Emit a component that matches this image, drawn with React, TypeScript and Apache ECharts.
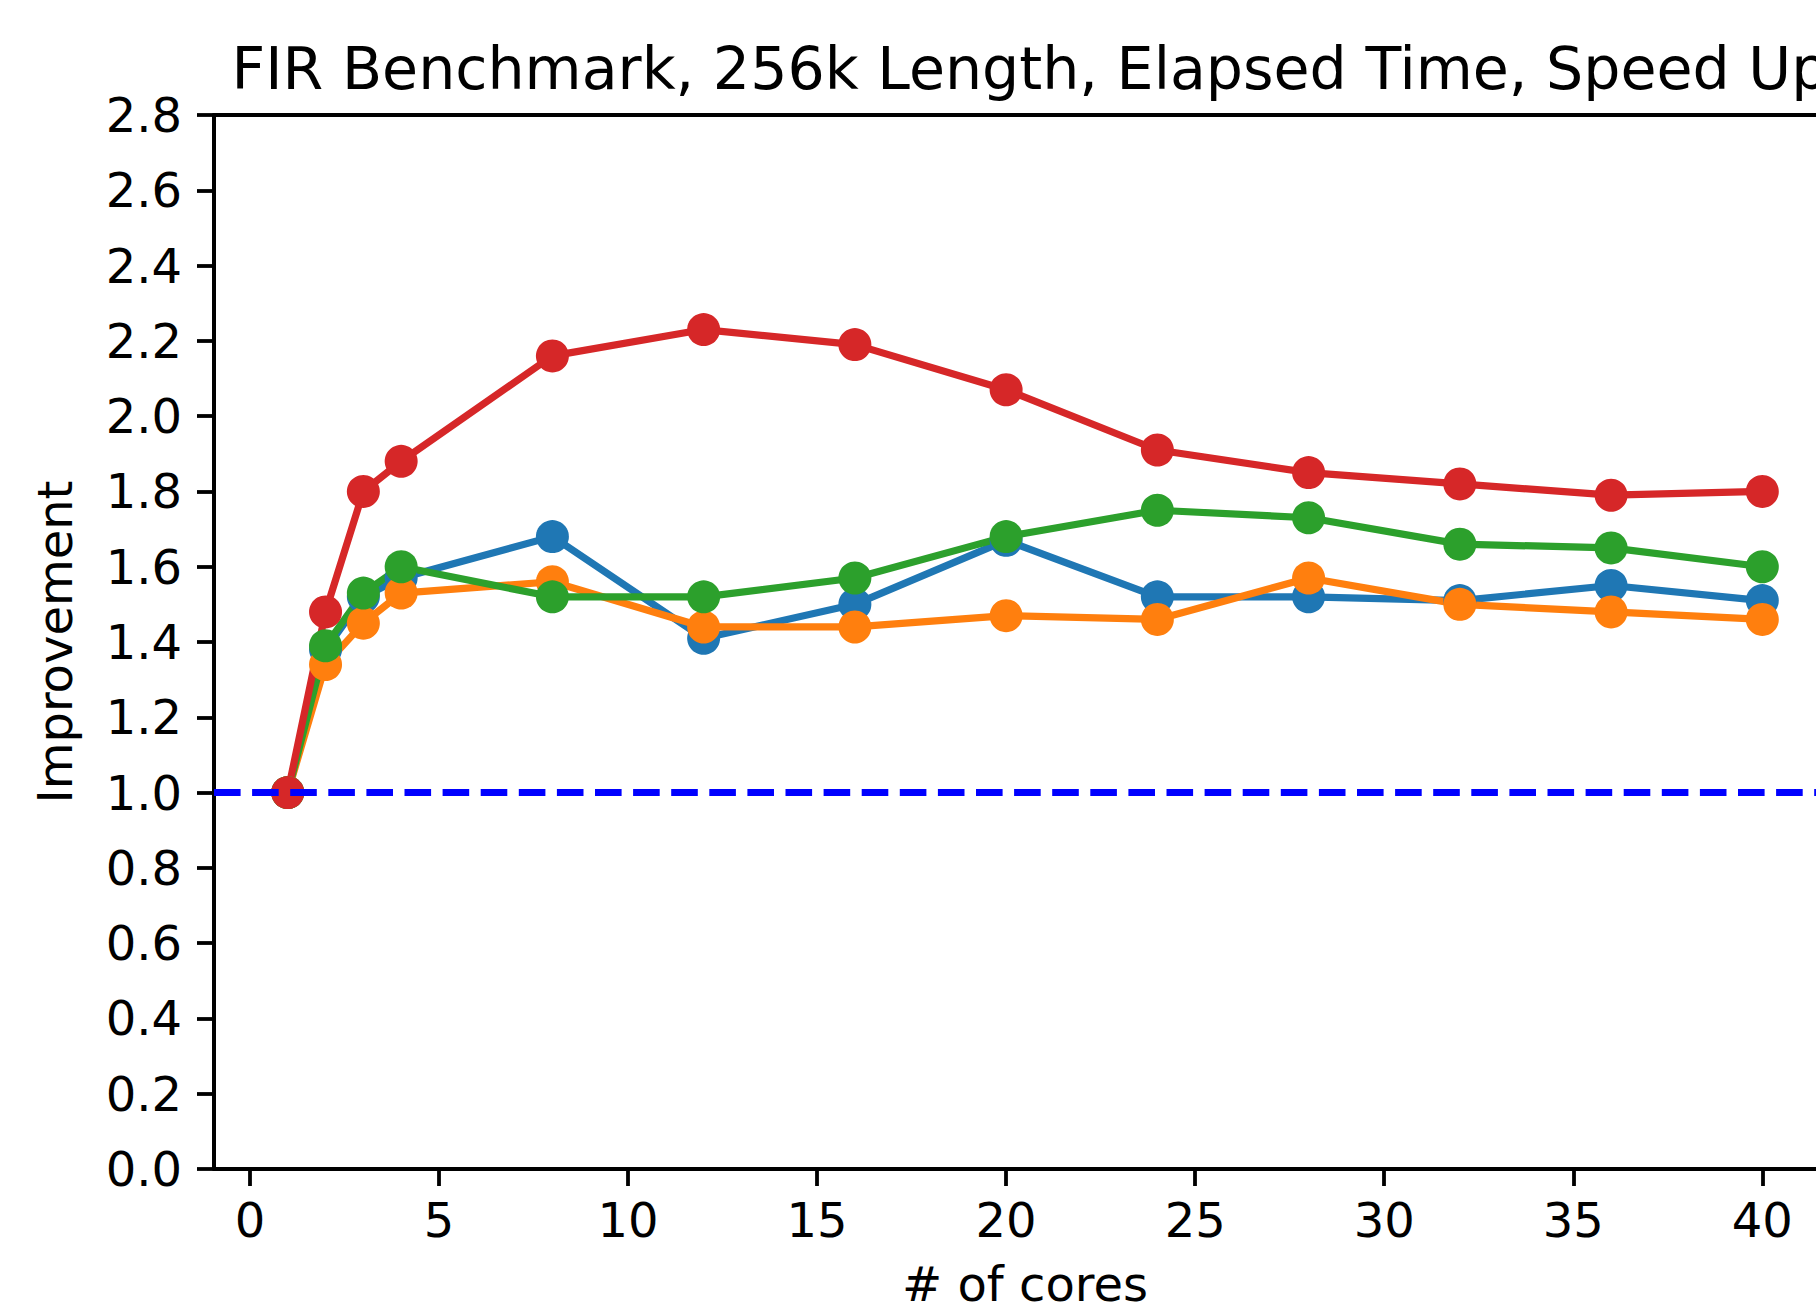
import React, { useEffect, useRef } from "react";
import * as echarts from "echarts";

const cores = [1, 2, 3, 4, 8, 12, 16, 20, 24, 28, 32, 36, 40];
const blueSeries = [1.0, 1.38, 1.52, 1.57, 1.68, 1.41, 1.5, 1.67, 1.52, 1.52, 1.51, 1.55, 1.51];
const orangeSeries = [1.0, 1.34, 1.45, 1.53, 1.56, 1.44, 1.44, 1.47, 1.46, 1.57, 1.5, 1.48, 1.46];
const greenSeries = [1.0, 1.39, 1.53, 1.6, 1.52, 1.52, 1.57, 1.68, 1.75, 1.73, 1.66, 1.65, 1.6];
const redSeries = [1.0, 1.48, 1.8, 1.88, 2.16, 2.23, 2.19, 2.07, 1.91, 1.85, 1.82, 1.79, 1.8];
const baseline = 1.0;
const xTicks = [0, 5, 10, 15, 20, 25, 30, 35, 40];
const titleText = "FIR Benchmark, 256k Length, Elapsed Time, Speed Up";

const FONT = "DejaVu Sans";
const LW = 7.2;
const SYM = 33;
const X_MIN = -0.95;
const X_MAX = 41.42;

export default function App() {
  const ref = useRef<HTMLDivElement>(null);
  useEffect(() => {
    document.body.style.margin = "0";
    const chart = echarts.init(ref.current!, null, { renderer: "svg" });
    const mk = (data: number[], color: string) => ({
      type: "line",
      data: cores.map((c, i) => [c, data[i]]),
      symbol: "circle",
      symbolSize: SYM,
      showSymbol: true,
      lineStyle: { color, width: LW },
      itemStyle: { color, borderWidth: 0 },
      emphasis: { disabled: true },
    });
    chart.setOption({
      animation: false,
      backgroundColor: "#fff",
      title: {
        text: titleText,
        left: 1025,
        top: 34,
        textAlign: "center",
        textStyle: { fontFamily: FONT, fontSize: 58.6, fontWeight: "normal", color: "#000" },
      },
      grid: { left: 214, top: 115, right: 0, bottom: 137, outerBoundsMode: "none", containLabel: false },
      xAxis: [
        {
          type: "value",
          min: X_MIN,
          max: X_MAX,
          name: "# of cores",
          nameLocation: "middle",
          nameGap: 91,
          nameTextStyle: { fontFamily: FONT, fontSize: 48, color: "#000", padding: [0, 0, 0, 20] },
          axisLine: { show: true, onZero: false, lineStyle: { color: "#000", width: 4 } },
          axisTick: { show: true, length: 17, customValues: xTicks, lineStyle: { color: "#000", width: 3.8 } },
          axisLabel: { customValues: xTicks, margin: 27, fontFamily: FONT, fontSize: 48, color: "#000" },
          splitLine: { show: false },
        },
        {
          type: "value",
          position: "top",
          min: X_MIN,
          max: X_MAX,
          axisLine: { show: true, onZero: false, lineStyle: { color: "#000", width: 4 } },
          axisTick: { show: false },
          axisLabel: { show: false },
          splitLine: { show: false },
        },
      ],
      yAxis: {
        type: "value",
        min: 0,
        max: 2.8,
        interval: 0.2,
        name: "Improvement",
        nameLocation: "middle",
        nameGap: 135,
        nameTextStyle: { fontFamily: FONT, fontSize: 48, color: "#000" },
        axisLine: { show: true, onZero: false, lineStyle: { color: "#000", width: 4 } },
        axisTick: { show: true, length: 17, lineStyle: { color: "#000", width: 3.8 } },
        axisLabel: {
          margin: 32,
          fontFamily: FONT,
          fontSize: 48,
          color: "#000",
          formatter: (v: number) => v.toFixed(1),
        },
        splitLine: { show: false },
      },
      series: [
        mk(blueSeries, "#1f77b4"),
        mk(orangeSeries, "#ff7f0e"),
        mk(greenSeries, "#2ca02c"),
        mk(redSeries, "#d62728"),
        {
          type: "line",
          data: [],
          markLine: {
            silent: true,
            symbol: "none",
            label: { show: false },
            lineStyle: { color: "#0000ff", width: LW, type: [26.6, 11.5] },
            data: [{ yAxis: baseline }],
          },
        },
      ],
    });
    return () => chart.dispose();
  }, []);
  return <div ref={ref} style={{ width: 1816, height: 1306 }} />;
}
